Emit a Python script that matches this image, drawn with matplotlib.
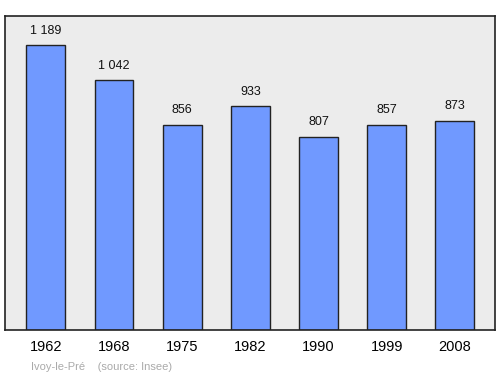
import matplotlib
matplotlib.use("Agg")
import matplotlib.pyplot as plt

plt.rcParams['font.family'] = ['Liberation Sans', 'DejaVu Sans']

years = ['1962', '1968', '1975', '1982', '1990', '1999', '2008']
population = [1189, 1042, 856, 933, 807, 857, 873]
labels = ['1 189', '1 042', '856', '933', '807', '857', '873']

fig = plt.figure(figsize=(5, 3.74), dpi=100)
ax = fig.add_axes([0.01, 0.1176, 0.98, 0.8396])
ax.set_facecolor('#ececec')

x = range(len(years))
ax.bar(x, population, width=0.57, color='#7099ff', edgecolor='#222222', linewidth=1)

for i, (v, lab) in enumerate(zip(population, labels)):
    ax.text(i, v + 60, lab, ha='center', va='center', fontsize=9, color='#111111')

ax.set_xlim(-0.6, 6.59)
ax.set_ylim(0, 1310)
ax.set_xticks(list(x))
ax.set_xticklabels(years, fontsize=10.5)
ax.tick_params(axis='x', length=0, pad=7)
ax.set_yticks([])
for s in ax.spines.values():
    s.set_color('#222222')
    s.set_linewidth(1.2)

fig.text(0.062, 0.012, 'Ivoy-le-Pré    (source: Insee)', fontsize=8, color='#aaaaaa')

fig.savefig('out.png')
